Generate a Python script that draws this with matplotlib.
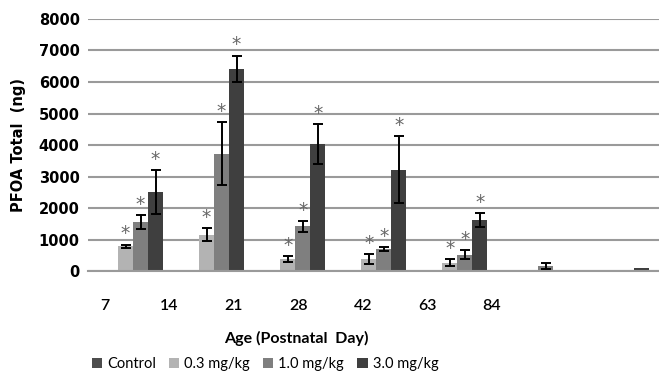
import numpy as np
import matplotlib
matplotlib.use("Agg")
import matplotlib.pyplot as plt

# --- data ---
days = ["7", "14", "21", "28", "42", "63", "84"]
series = ["Control", "0.3 mg/kg", "1.0 mg/kg", "3.0 mg/kg"]

control = [30, 30, 30, 30, 30, 0, 0]
dose_03 = [780, 1150, 380, 380, 270, 30, 30]
dose_10 = [1550, 3720, 1420, 700, 520, 150, 40]
dose_30 = [2500, 6420, 4030, 3220, 1610, 0, 100]

control_err = [0, 0, 0, 0, 0, 0, 0]
dose_03_err = [60, 200, 90, 150, 110, 0, 0]
dose_10_err = [230, 1000, 170, 60, 140, 90, 0]
dose_30_err = [700, 420, 640, 1060, 220, 0, 0]

# which bars carry a significance star
stars_03 = [1, 1, 1, 1, 1, 0, 0]
stars_10 = [1, 1, 1, 1, 1, 0, 0]
stars_30 = [1, 1, 1, 1, 1, 0, 0]

colors = ["#4d4d4d", "#b3b3b3", "#7f7f7f", "#3f3f3f"]

# --- figure ---
fig = plt.figure(figsize=(6.59, 3.71), dpi=100)
ax = fig.add_axes([0.1335, 0.2695, 0.8665, 0.6793])

x = np.arange(len(days))
w = 0.185
values = [control, dose_03, dose_10, dose_30]
errors = [control_err, dose_03_err, dose_10_err, dose_30_err]
stars = [None, stars_03, stars_10, stars_30]

for i, (vals, errs, col, name) in enumerate(zip(values, errors, colors, series)):
    xpos = x + (i - 1.5) * w
    ax.bar(xpos, vals, width=w, color=col, label=name, zorder=2)
    yerr = np.array(errs)
    mask = yerr > 0
    ax.errorbar(xpos[mask], np.array(vals)[mask], yerr=yerr[mask], fmt="none",
                ecolor="black", elinewidth=1.4, capsize=3.6, capthick=1.4, zorder=3)
    if stars[i] is not None:
        for xp, v, e, s in zip(xpos, vals, errs, stars[i]):
            if s:
                ax.annotate("*", (xp, v + e), xytext=(0, 1), textcoords="offset points",
                            ha="center", va="bottom", fontsize=13.5, color="#666666")

ax.set_ylim(0, 8000)
ax.set_yticks(np.arange(0, 8001, 1000))
ax.set_xlim(-0.556, 6.49)
ax.yaxis.grid(True, color="#9a9a9a", linewidth=1.5, zorder=0)
ax.set_axisbelow(True)
for sp in ["top", "right", "left"]:
    ax.spines[sp].set_visible(False)
ax.spines["bottom"].set_color("#9a9a9a")
ax.spines["bottom"].set_linewidth(1.5)

for lbl in ax.get_yticklabels():
    lbl.set_fontweight("bold")
    lbl.set_fontsize(10.5)
    lbl.set_family("DejaVu Sans")
ax.tick_params(axis="y", length=0, pad=6)

# category labels sit left of the bar groups in the original
label_pos = -0.346 + x * 0.796
ax.set_xticks(label_pos)
ax.set_xticklabels(days, fontsize=11.5, family="Lato", fontweight="semibold")
ax.tick_params(axis="x", length=0, pad=20)

ax.set_ylabel("PFOA Total  (ng)", fontsize=10.5, fontweight="bold", labelpad=9)
fig.text(296 / 659, 1 - 338 / 371, "Age (Postnatal  Day)", ha="center", va="center",
         fontsize=11.5, fontweight="bold", family="Lato")

fig.legend(loc="center", bbox_to_anchor=(265 / 659, 1 - 364 / 371), ncol=4, frameon=False,
           prop={"family": "Lato", "size": 10.5}, handlelength=0.7, handleheight=0.7,
           handletextpad=0.35, columnspacing=0.9)

fig.savefig("out.png", dpi=100)
